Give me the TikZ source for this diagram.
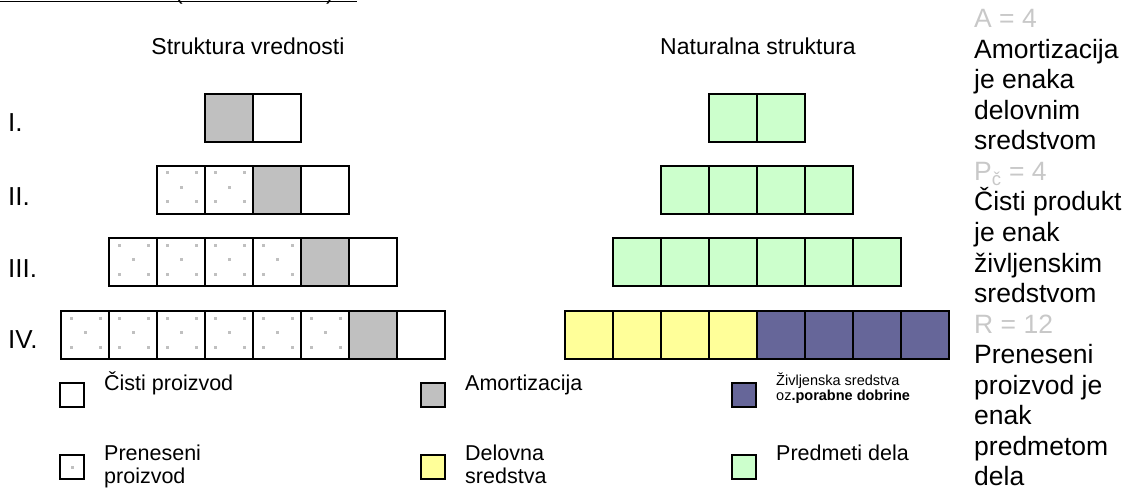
\documentclass[tikz,border=0pt]{standalone}
\usepackage{fontspec}
\setmainfont{Liberation Sans}
\usetikzlibrary{positioning}
\definecolor{amort}{HTML}{C0C0C0}
\definecolor{delovna}{HTML}{FFFF99}
\definecolor{predmeti}{HTML}{CCFFCC}
\definecolor{zivljenska}{HTML}{666699}
\definecolor{svetlo}{HTML}{C8C8C8}
\tikzset{
	polje/.style={draw=black, line width=2pt},
	znak/.style={draw=black, line width=1.8pt},
	pika/.style={fill=amort},
	besedilo/.style={inner sep=0pt, anchor=base west},
	naslov/.style={inner sep=0pt, anchor=base, font=\fontsize{23}{27}\selectfont},
	legenda/.style={besedilo, font=\fontsize{21.5}{25}\selectfont},
	rimska/.style={besedilo, font=\fontsize{26}{30}\selectfont},
	desno/.style={besedilo, font=\fontsize{26.5}{30.5}\selectfont}
}
% pike prenesenega proizvoda v kvadratu z levim zgornjim ogliscem (#1,#2)
\newcommand{\pikeprenos}[2]{%
	\foreach \dx/\dy in {10/7,39/7,24.5/21.5,10/36,39/36}
		\fill[pika] ({#1+\dx-1.5},{#2+\dy-1.5}) rectangle ++(3,3);}

\begin{document}
\begin{tikzpicture}[x=1pt,y=-1pt]
\useasboundingbox (0,0) rectangle (1129,489);
\def\a{48}

% odrezan naslov
\begin{scope}
	\clip (0,0) rectangle (400,20);
	\draw[line width=1.5pt] (0,1.5) -- (357,1.5);
	\node[naslov] (oklepajL) at (179,0) {(};
	\node[naslov] (oklepajD) at (330,0) {)};
\end{scope}

\node[naslov] (naslovV) at (248,55) {Struktura vrednosti};
\node[naslov] (naslovN) at (758,55) {Naturalna struktura};

\foreach[count=\k] \rim/\b in {I./132,II./205,III./277,IV./348}
	\node[rimska] (rim\k) at (8,\b) {\rim};

% struktura vrednosti
\foreach[count=\k] \y in {94,166,238,311}
{
	\pgfmathtruncatemacro{\n}{2*\k}
	\pgfmathsetmacro{\levo}{253-24*\n}
	\foreach \i in {1,...,\n}
	{
		\pgfmathsetmacro{\x}{\levo+(\i-1)*\a}
		\ifnum\i<\numexpr\n-1\relax
			\fill[white] (\x,\y) rectangle ++(\a,\a);
			\pikeprenos{\x}{\y}
			\draw[polje] (\x,\y) rectangle ++(\a,\a);
		\else\ifnum\i=\numexpr\n-1\relax
			\draw[polje, fill=amort] (\x,\y) rectangle ++(\a,\a);
		\else
			\draw[polje, fill=white] (\x,\y) rectangle ++(\a,\a);
		\fi\fi
	}
}

% naturalna struktura
\foreach[count=\k] \y in {94,166,238}
{
	\pgfmathtruncatemacro{\n}{2*\k}
	\pgfmathsetmacro{\levo}{757-24*\n}
	\foreach \i in {1,...,\n}
		\draw[polje, fill=predmeti] ({\levo+(\i-1)*\a},\y) rectangle ++(\a,\a);
}
\foreach \i in {1,...,8}
{
	\ifnum\i<5
		\draw[polje, fill=delovna] ({565+(\i-1)*\a},311) rectangle ++(\a,\a);
	\else
		\draw[polje, fill=zivljenska] ({565+(\i-1)*\a},311) rectangle ++(\a,\a);
	\fi
}

% legenda
\draw[znak, fill=white] (60,383) rectangle ++(24,24);
\node[legenda] (legCisti) at (104,390) {Čisti proizvod};
\fill[white] (60,455) rectangle ++(24,24);
\fill[pika] (70.5,465.5) rectangle ++(3,3);
\draw[znak] (60,455) rectangle ++(24,24);
\node[legenda] (legPren) at (104,460) {Preneseni};
\node[legenda] (legPren2) at (104,483) {proizvod};

\draw[znak, fill=amort] (421,383) rectangle ++(24,24);
\node[legenda] (legAmort) at (465,390) {Amortizacija};
\draw[znak, fill=delovna] (421,455) rectangle ++(24,24);
\node[legenda] (legDel) at (465,460) {Delovna};
\node[legenda] (legDel2) at (465,483) {sredstva};

\draw[znak, fill=zivljenska] (732,383) rectangle ++(24,24);
\node[besedilo, font=\fontsize{14.5}{15}\selectfont] (legZiv) at (776,385) {Življenska sredstva};
\node[besedilo, font=\fontsize{14.5}{15}\selectfont] (legZiv2) at (776,400) {oz\textbf{.porabne dobrine}};
\draw[znak, fill=predmeti] (732,455) rectangle ++(24,24);
\node[legenda] (legPred) at (776,460) {Predmeti dela};

% razlaga na desni
\foreach[count=\i] \vrstica/\barva in {A = 4/svetlo, Amortizacija/black, je enaka/black,
	delovnim/black, sredstvom/black, P\textsubscript{č} = 4/svetlo, Čisti produkt/black,
	je enak/black, življenskim/black, sredstvom/black, R = 12/svetlo, Preneseni/black,
	proizvod je/black, enak/black, predmetom/black, dela/black}
	\node[desno, text=\barva] (razlaga\i) at (974,{28+30.5*(\i-1)}) {\vrstica};
\end{tikzpicture}
\end{document}
